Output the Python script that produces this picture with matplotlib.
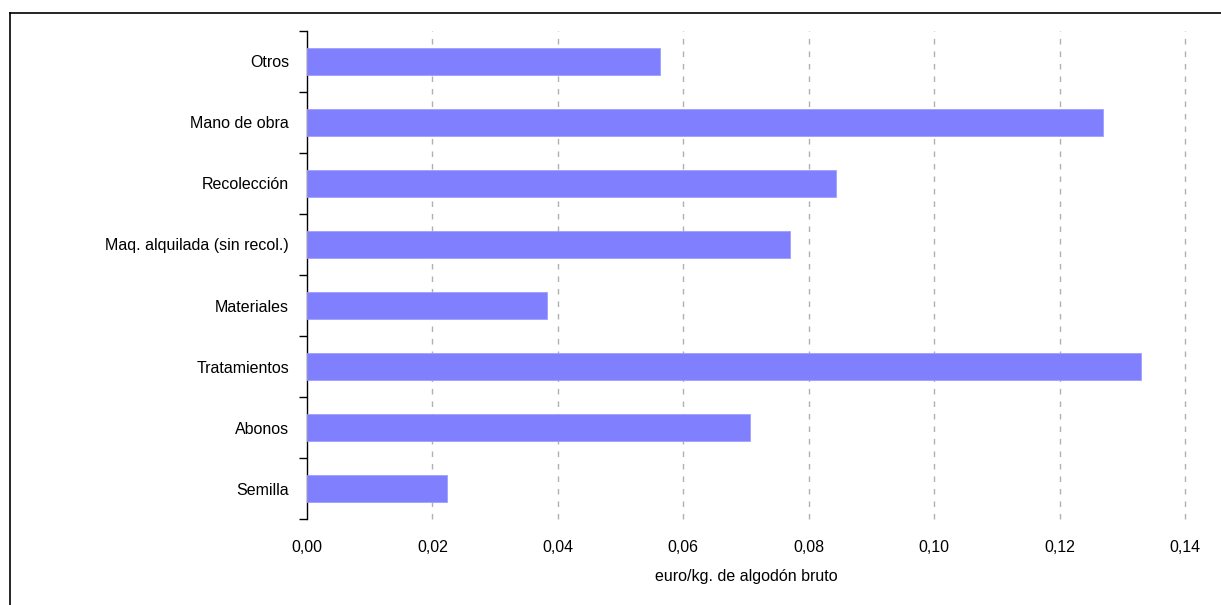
import numpy as np
import matplotlib.pyplot as plt
from matplotlib.lines import Line2D

categories = ["Semilla", "Abonos", "Tratamientos", "Materiales",
              "Maq. alquilada (sin recol.)", "Recolección", "Mano de obra", "Otros"]
values = [0.0224, 0.0707, 0.1330, 0.0383, 0.0770, 0.0844, 0.1270, 0.0563]
xticks = [0.00, 0.02, 0.04, 0.06, 0.08, 0.10, 0.12, 0.14]
xlabels = ["0,00", "0,02", "0,04", "0,06", "0,08", "0,10", "0,12", "0,14"]

plt.rcParams['font.family'] = ['Liberation Sans', 'DejaVu Sans']

fig = plt.figure(figsize=(12.21, 6.05), dpi=100)
ax = fig.add_axes([0.2514, 0.1421, 0.9705 - 0.2514, 0.9488 - 0.1421])

y = np.arange(len(categories))
ax.barh(y, values, height=0.43, color="#8080ff", edgecolor="#9f9fff", linewidth=0.6, zorder=3)

ax.set_xlim(0, 0.14)
ax.set_ylim(-0.5, len(categories) - 0.5)

for t in xticks[1:]:
    ax.axvline(t, color="#b0b0b0", linewidth=1, linestyle=(0, (4, 5)), zorder=1, clip_on=False)

ax.set_xticks(xticks)
ax.set_xticklabels(xlabels, fontsize=11.5)
ax.tick_params(axis="x", length=0, pad=15)

ax.set_yticks(y)
ax.set_yticklabels(categories, fontsize=11.5)
ax.tick_params(axis="y", which="major", length=0, pad=13)
ax.set_yticks(np.arange(-0.5, len(categories)), minor=True)
ax.tick_params(axis="y", which="minor", length=5.5, width=1, color="black", direction="out")

for s in ["top", "right", "bottom"]:
    ax.spines[s].set_visible(False)
ax.spines["left"].set_color("black")
ax.spines["left"].set_linewidth(1)

ax.set_xlabel("euro/kg. de algodón bruto", fontsize=11.5, labelpad=10)

# outer frame (left and top edges visible)
fig.add_artist(Line2D([10 / 1221, 10 / 1221], [0, 1 - 13 / 605], color="black", linewidth=1.2))
fig.add_artist(Line2D([10 / 1221, 1], [1 - 13 / 605, 1 - 13 / 605], color="black", linewidth=1.2))

fig.savefig("out.png", dpi=100)
